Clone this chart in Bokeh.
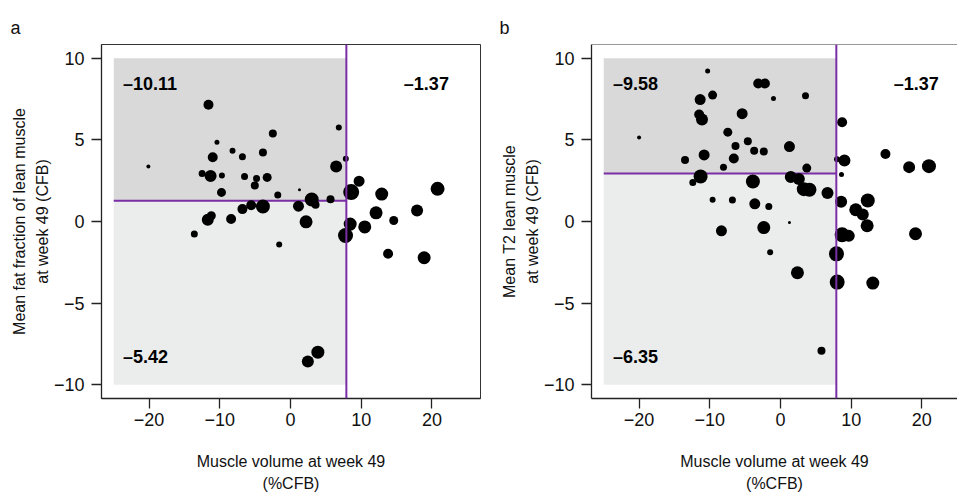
from bokeh.plotting import figure
from bokeh.layouts import row
from bokeh.models import Range1d, FixedTicker, Span
from bokeh.core.properties import value
from bokeh.embed import file_html
from bokeh.resources import INLINE

FONT = "Liberation Sans"

x_ticks = [-20, -10, 0, 10, 20]
y_ticks = [-10, -5, 0, 5, 10]
tick_text = {-20: "\u221220", -10: "\u221210", -5: "\u22125", 0: "0", 5: "5", 10: "10", 20: "20"}

x_label = "Muscle volume at week 49\n(%CFB)"

# ---------------- panel a ----------------
a_ylabel = "Mean fat fraction of lean muscle\nat week 49 (CFB)"
a_x = [-11.6, -20.1, -10.4, -11.0, -8.2, -6.8, -12.5, -11.3, -9.7, -6.5,
       -9.76, -3.9, -2.5, 6.83, 7.82, 6.46, -4.8, -3.3, -5.05, -1.8,
       1.27, 3.0, 3.54, 5.66, 8.58, 9.7, 12.9, 20.8, -11.7, -11.2,
       -8.4, -6.8, -5.56, -3.9, 1.13, 2.2, -1.6, 8.44, 7.78, 10.5,
       12.1, 14.6, 17.9, 13.8, 18.9, 3.87, 2.45, -13.6]
a_y = [7.15, 3.37, 4.86, 3.94, 4.33, 3.96, 2.94, 2.78, 2.82, 2.76,
       1.78, 4.22, 5.39, 5.76, 3.84, 3.37, 2.63, 2.70, 2.20, 1.63,
       1.94, 1.35, 1.02, 1.37, 1.80, 2.47, 1.68, 2.0, 0.1, 0.35,
       0.15, 0.76, 1.0, 0.92, 0.94, -0.02, -1.41, -0.16, -0.86, -0.33,
       0.53, 0.06, 0.67, -1.98, -2.22, -8.0, -8.57, -0.77]
a_size = [10, 4, 5, 10, 6, 7, 7, 12, 6, 7,
          9, 8, 8, 6, 6, 12, 7, 9, 8, 7,
          3, 14, 8, 8, 16, 11, 13, 14, 12, 9,
          10, 10, 10, 14, 11, 13, 6, 13, 15, 13,
          13, 9, 12, 10, 13, 13, 12, 7]
a_xcut = 7.9
a_ycut = 1.27
a_quad = ["\u201310.11", "\u20131.37", "\u20135.42"]

# ---------------- panel b ----------------
b_ylabel = "Mean T2 lean muscle\nat week 49 (CFB)"
b_x = [-10.3, -11.36, -9.6, -11.5, -11.1, -20.0, -13.5, -10.8, -8.06, -11.3,
       -12.4, -9.6, -3.15, -2.2, -0.99, 3.54, -5.42, 8.72, -7.45, -4.62,
       -6.36, -3.72, -2.36, 1.27, -6.6, 3.72, 8.0, 9.05, 8.63, 14.85,
       18.2, 21.0, -3.9, 1.46, 2.6, 3.3, 4.1, 6.65, -6.8, -3.63,
       -1.65, 8.58, 12.35, 10.65, 11.64, 12.26, 1.27, -8.35, -2.36, 8.72,
       9.66, 19.1, -1.46, 7.92, 2.4, 8.02, 13.06, 5.8]
b_y = [9.21, 7.47, 7.74, 6.55, 6.25, 5.14, 3.76, 4.08, 3.33, 2.76,
       2.39, 1.33, 8.45, 8.45, 7.53, 7.70, 6.6, 6.08, 5.47, 4.92,
       4.62, 4.33, 4.29, 4.59, 3.86, 3.27, 3.82, 3.74, 2.88, 4.13,
       3.33, 3.39, 2.45, 2.72, 2.60, 1.98, 1.94, 1.74, 1.31, 1.08,
       0.92, 1.21, 1.29, 0.72, 0.43, -0.26, -0.06, -0.57, -0.37, -0.81,
       -0.88, -0.75, -1.88, -1.98, -3.14, -3.71, -3.77, -7.92]
b_size = [5, 11, 9, 10, 12, 4, 8, 11, 7, 14,
          7, 6, 10, 10, 5, 7, 11, 10, 9, 8,
          8, 8, 8, 11, 10, 9, 6, 12, 5, 10,
          12, 14, 14, 12, 12, 14, 14, 12, 7, 11,
          7, 12, 14, 13, 12, 13, 3, 11, 13, 15,
          12, 13, 6, 15, 13, 15, 13, 8]
b_xcut = 7.9
b_ycut = 2.94
b_quad = ["\u20139.58", "\u20131.37", "\u20136.35"]


def make_panel(letter, letter_offset, xs, ys, sizes, xcut, ycut, quad, ylabel,
               x_end, width, border_left, border_right, outline):
    p = figure(width=width, height=500,
               x_range=Range1d(-26.73, x_end), y_range=Range1d(-10.84, 10.84),
               output_backend="svg", toolbar_location=None,
               min_border_left=border_left, min_border_right=border_right,
               min_border_top=44, min_border_bottom=102)
    p.xgrid.visible = False
    p.ygrid.visible = False
    p.background_fill_color = "white"
    p.border_fill_color = "white"
    if outline:
        p.outline_line_color = "#333333"
        p.outline_line_width = 1
    else:
        p.outline_line_color = None
        p.add_layout(Span(location=10.84, dimension="width",
                          line_color="#333333", line_width=1))

    # panel letter
    p.title.text = letter
    p.title.align = "left"
    p.title.offset = letter_offset
    p.title.standoff = 13
    p.title.text_font = FONT
    p.title.text_font_size = "18px"
    p.title.text_font_style = "normal"
    p.title.text_color = "#111111"

    # shaded quadrants
    p.quad(left=-25, right=xcut, bottom=ycut, top=10,
           fill_color="#d9d9d9", line_color=None)
    p.quad(left=-25, right=xcut, bottom=-10, top=ycut,
           fill_color="#ebecec", line_color=None)

    # cut lines
    p.add_layout(Span(location=xcut, dimension="height",
                      line_color="#7b2fa6", line_width=2))
    p.segment(x0=-25, y0=ycut, x1=xcut, y1=ycut,
              line_color="#7b2fa6", line_width=2)

    p.scatter(xs, ys, size=sizes, fill_color="black", line_color=None)

    # quadrant values
    common = dict(text_baseline="middle", text_font=value(FONT),
                  text_font_style="bold", text_font_size="18px",
                  text_color="black")
    p.text(x=[-23.7], y=[8.45], text=[quad[0]], text_align="left", **common)
    p.text(x=[22.4], y=[8.45], text=[quad[1]], text_align="right", **common)
    p.text(x=[-23.7], y=[-8.27], text=[quad[2]], text_align="left", **common)

    for ax, ticks in ((p.xaxis[0], x_ticks), (p.yaxis[0], y_ticks)):
        ax.ticker = FixedTicker(ticks=ticks)
        ax.major_label_overrides = {t: tick_text[t] for t in ticks}
        ax.minor_tick_line_color = None
        ax.major_tick_in = 0
        ax.major_tick_out = 10
        ax.major_tick_line_color = "#222222"
        ax.major_tick_line_width = 1.3
        ax.axis_line_color = "#222222"
        ax.axis_line_width = 1.3
        ax.major_label_text_font = FONT
        ax.major_label_text_font_size = "18px"
        ax.major_label_text_color = "#111111"
        ax.axis_label_text_font = FONT
        ax.axis_label_text_font_size = "16px"
        ax.axis_label_text_font_style = "normal"
        ax.axis_label_text_color = "#111111"
        ax.axis_label_text_line_height = 1.35

    p.xaxis.major_label_standoff = 4
    p.yaxis.major_label_standoff = 7
    p.xaxis.axis_label = x_label
    p.xaxis.axis_label_standoff = 24
    p.yaxis.axis_label = ylabel
    p.yaxis.axis_label_standoff = 0
    return p


pa = make_panel("a", -91, a_x, a_y, a_size, a_xcut, a_ycut, a_quad, a_ylabel,
                26.87, 498, 101, 18, True)
pb = make_panel("b", -92, b_x, b_y, b_size, b_xcut, b_ycut, b_quad, b_ylabel,
                25.04, 459, 93, 0, False)

layout = row(pa, pb)
open("out.html", "w").write(file_html(layout, INLINE))
